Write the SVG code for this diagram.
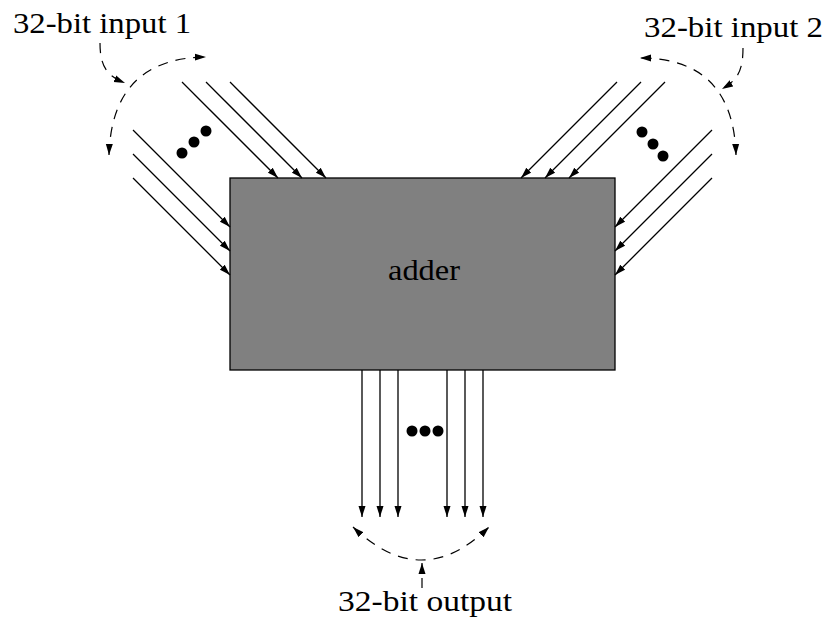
<svg xmlns="http://www.w3.org/2000/svg" width="828" height="617" viewBox="0 0 828 617">
<defs>
<marker id="ah" markerUnits="userSpaceOnUse" markerWidth="12" markerHeight="8" refX="11" refY="4" orient="auto-start-reverse">
<path d="M0,0.5 L11,4 L0,7.5 Z" fill="#000"/>
</marker>
</defs>
<style>
.lbl{font-family:"Liberation Serif","DejaVu Serif",serif;font-size:30px;fill:#000}
.wire{stroke:#000;stroke-width:1.3;fill:none;marker-end:url(#ah)}
.dash{stroke:#000;stroke-width:1.2;fill:none;stroke-dasharray:10 8}
.dot{fill:#000}
</style>
<rect width="828" height="617" fill="#fff"/>
<g id="adder">
<rect x="230" y="178" width="385" height="192" fill="#808080" stroke="#000" stroke-width="1.3"/>
<text class="lbl" x="388" y="280" textLength="72" lengthAdjust="spacingAndGlyphs">adder</text>
</g>
<g id="input1">
<text class="lbl" x="13" y="33" textLength="178" lengthAdjust="spacingAndGlyphs">32-bit input 1</text>
</g>
<g id="input2">
<text class="lbl" x="644" y="37" textLength="179" lengthAdjust="spacingAndGlyphs">32-bit input 2</text>
</g>
<g id="output">
<text class="lbl" x="338" y="611" textLength="174" lengthAdjust="spacingAndGlyphs">32-bit output</text>
</g>
<g id="connectors">
<line class="wire" x1="182" y1="82" x2="278" y2="178"/>
<line class="wire" x1="206" y1="82" x2="302" y2="178"/>
<line class="wire" x1="230" y1="82" x2="326" y2="178"/>
<line class="wire" x1="133" y1="130" x2="230" y2="227"/>
<line class="wire" x1="133" y1="154" x2="230" y2="251"/>
<line class="wire" x1="133" y1="178" x2="230" y2="275"/>
<line class="wire" x1="617" y1="82" x2="521" y2="178"/>
<line class="wire" x1="641" y1="82" x2="545" y2="178"/>
<line class="wire" x1="665" y1="82" x2="569" y2="178"/>
<line class="wire" x1="712" y1="130" x2="615" y2="227"/>
<line class="wire" x1="712" y1="154" x2="615" y2="251"/>
<line class="wire" x1="712" y1="178" x2="615" y2="275"/>
<line class="wire" x1="362" y1="370" x2="362" y2="517"/>
<line class="wire" x1="380" y1="370" x2="380" y2="517"/>
<line class="wire" x1="398" y1="370" x2="398" y2="517"/>
<line class="wire" x1="447" y1="370" x2="447" y2="517"/>
<line class="wire" x1="465" y1="370" x2="465" y2="517"/>
<line class="wire" x1="483" y1="370" x2="483" y2="517"/>
<path class="dash" d="M109,155 Q112,58 206,57" marker-start="url(#ah)" marker-end="url(#ah)"/>
<path class="dash" d="M100,43 C100,68 108,76 125,83" marker-end="url(#ah)"/>
<path class="dash" d="M736,155 Q733,58 640,58" marker-start="url(#ah)" marker-end="url(#ah)"/>
<path class="dash" d="M743,48 C743,72 737,80 722,89" marker-end="url(#ah)"/>
<path class="dash" d="M353,527 Q422,593 489,527" marker-start="url(#ah)" marker-end="url(#ah)"/>
<path class="dash" d="M422,588 L422,563" marker-end="url(#ah)"/>
</g>
<g id="ellipses">
<circle class="dot" cx="182" cy="153" r="5.5"/>
<circle class="dot" cx="194" cy="142" r="5.5"/>
<circle class="dot" cx="206" cy="131" r="5.5"/>
<circle class="dot" cx="642" cy="132" r="5.5"/>
<circle class="dot" cx="653" cy="144" r="5.5"/>
<circle class="dot" cx="663" cy="156" r="5.5"/>
<circle class="dot" cx="412" cy="431" r="5.5"/>
<circle class="dot" cx="425" cy="431" r="5.5"/>
<circle class="dot" cx="438" cy="431" r="5.5"/>
</g>
</svg>
